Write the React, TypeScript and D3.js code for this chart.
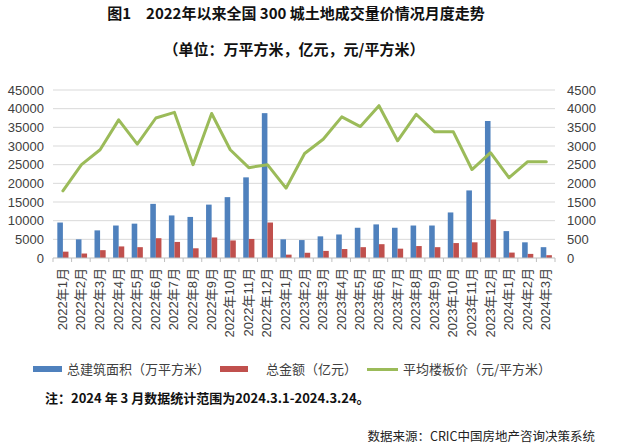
import React from "react";
import * as d3 from "d3";

const months: string[] = [
  "2022年1月", "2022年2月", "2022年3月", "2022年4月", "2022年5月", "2022年6月",
  "2022年7月", "2022年8月", "2022年9月", "2022年10月", "2022年11月", "2022年12月",
  "2023年1月", "2023年2月", "2023年3月", "2023年4月", "2023年5月", "2023年6月",
  "2023年7月", "2023年8月", "2023年9月", "2023年10月", "2023年11月", "2023年12月",
  "2024年1月", "2024年2月", "2024年3月",
];

// 总建筑面积（万平方米）
const area: number[] = [
  9500, 5000, 7400, 8700, 9200, 14500, 11400, 11000, 14300, 16300, 21600, 38800,
  5000, 4800, 5800, 6300, 8100, 9000, 8100, 8700, 8700, 12200, 18100, 36700,
  7200, 4200, 2900,
];

// 总金额（亿元）
const amount: number[] = [
  1700, 1200, 2100, 3100, 2900, 5300, 4300, 2600, 5500, 4700, 5100, 9500,
  900, 1400, 1900, 2400, 2900, 3700, 2500, 3200, 2900, 4000, 4200, 10300,
  1450, 1100, 750,
];

// 平均楼板价（元/平方米）
const price: number[] = [
  1800, 2500, 2900, 3700, 3050, 3750, 3900, 2500, 3870, 2900, 2420, 2500,
  1870, 2800, 3180, 3780, 3520, 4080, 3140, 3850, 3380, 3380, 2370, 2820,
  2150, 2580, 2580,
];

const leftTicks: number[] = [0, 5000, 10000, 15000, 20000, 25000, 30000, 35000, 40000, 45000];
const rightTicks: number[] = [0, 500, 1000, 1500, 2000, 2500, 3000, 3500, 4000, 4500];

const legendLabels: string[] = ["总建筑面积（万平方米）", "总金额（亿元）", "平均楼板价（元/平方米）"];

const W = 620;
const H = 448;
const X0 = 53;
const X1 = 555;
const YTOP = 90;
const YBOT = 258;

const BLUE = "#4F81BD";
const RED = "#C0504D";
const GREEN = "#9BBB59";
const TXT = "#404040";
const CJK = "'Noto Sans CJK SC', sans-serif";
const NUM = "'Liberation Sans', 'Noto Sans CJK SC', sans-serif";

export default function App() {
  const x = d3.scaleBand<string>().domain(months).range([X0, X1]).paddingInner(0).paddingOuter(0);
  const yL = d3.scaleLinear().domain([0, 45000]).range([YBOT, YTOP]);
  const yR = d3.scaleLinear().domain([0, 4500]).range([YBOT, YTOP]);
  const bw = x.bandwidth() * 0.3;
  const cx = (m: string) => (x(m) as number) + x.bandwidth() / 2 + 0.6;

  const line = d3
    .line<number>()
    .x((_, i) => cx(months[i]))
    .y((d) => yR(d));

  return (
    <svg
      width={W}
      height={H}
      style={{ position: "absolute", left: 0, top: 0, background: "#fff" }}
    >
      <rect x={0} y={0} width={W} height={H} fill="#fff" />
      {/* titles */}
      <text x={296} y={19} textAnchor="middle" fontFamily={CJK} fontWeight={700} fontSize={15} fill="#111">
        图1　2022年以来全国 300 城土地成交量价情况月度走势
      </text>
      <text x={294} y={55} textAnchor="middle" fontFamily={CJK} fontWeight={700} fontSize={15} fill="#111">
        （单位：万平方米，亿元，元/平方米）
      </text>

      {/* gridlines */}
      {leftTicks.filter((t) => t > 0).map((t) => (
        <line key={"g" + t} x1={X0} x2={X1} y1={yL(t)} y2={yL(t)} stroke="#D9D9D9" strokeWidth={1} />
      ))}

      {/* left tick labels */}
      {leftTicks.map((t) => (
        <text key={"l" + t} x={44} y={yL(t)} dy="0.35em" textAnchor="end" fontFamily={NUM} fontSize={13} fill={TXT}>
          {t}
        </text>
      ))}
      {/* right tick labels */}
      {rightTicks.map((t) => (
        <text key={"r" + t} x={567} y={yR(t)} dy="0.35em" textAnchor="start" fontFamily={NUM} fontSize={13} fill={TXT}>
          {t}
        </text>
      ))}

      {/* bars */}
      {months.map((m, i) => (
        <g key={"b" + m}>
          <rect x={cx(m) - bw} y={yL(area[i])} width={bw} height={YBOT - yL(area[i])} fill={BLUE} />
          <rect x={cx(m)} y={yL(amount[i])} width={bw} height={YBOT - yL(amount[i])} fill={RED} />
        </g>
      ))}

      {/* x axis */}
      <line x1={X0} x2={X1} y1={YBOT} y2={YBOT} stroke="#BFBFBF" strokeWidth={1} />
      {[...months.map((m) => x(m) as number), X1].map((v, i) => (
        <line key={"t" + i} x1={v} x2={v} y1={YBOT} y2={YBOT + 4} stroke="#BFBFBF" strokeWidth={1} />
      ))}

      {/* line */}
      <path d={line(price) || ""} fill="none" stroke={GREEN} strokeWidth={3} strokeLinejoin="round" strokeLinecap="round" />

      {/* x labels */}
      {months.map((m) => (
        <text
          key={"x" + m}
          transform={`translate(${cx(m) + 4},268) rotate(-90)`}
          textAnchor="end"
          fontFamily={NUM}
          fontSize={13}
          fill={TXT}
        >
          {m}
        </text>
      ))}

      {/* legend */}
      <rect x={33} y={366} width={29} height={6} fill={BLUE} />
      <text x={67} y={369} dy="0.35em" fontFamily={CJK} fontSize={13} fill={TXT}>{legendLabels[0]}</text>
      <rect x={220} y={366} width={28} height={6} fill={RED} />
      <text x={266} y={369} dy="0.35em" fontFamily={CJK} fontSize={13} fill={TXT}>{legendLabels[1]}</text>
      <line x1={367} x2={398} y1={369.5} y2={369.5} stroke={GREEN} strokeWidth={3} />
      <text x={403} y={369} dy="0.35em" fontFamily={CJK} fontSize={13} fill={TXT}>{legendLabels[2]}</text>

      {/* notes */}
      <text x={45} y={403} fontFamily={CJK} fontWeight={700} fontSize={13} fill="#111">
        注：2024 年 3 月数据统计范围为2024.3.1-2024.3.24。
      </text>
      <text x={595} y={441} textAnchor="end" fontFamily={CJK} fontSize={12.5} fill="#222">
        数据来源：CRIC中国房地产咨询决策系统
      </text>
    </svg>
  );
}
